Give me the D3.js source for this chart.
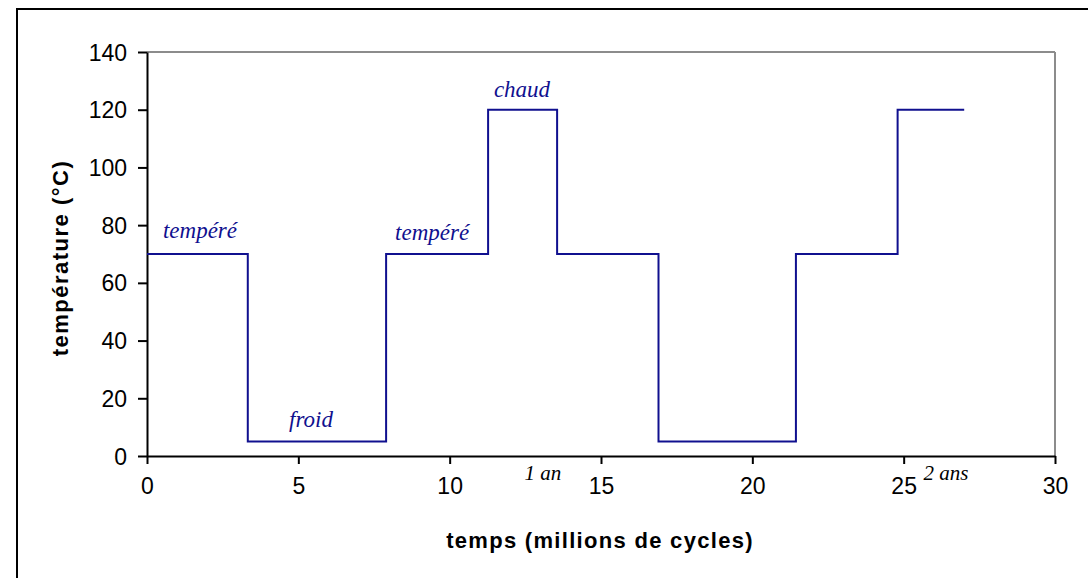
<!DOCTYPE html>
<html>
<head>
<meta charset="utf-8">
<script src="https://cdn.jsdelivr.net/npm/d3@7/dist/d3.min.js"></script>
<style>
  body { margin: 0; background: #fff; }
  svg { display: block; }
</style>
</head>
<body>
<svg width="1088" height="578"></svg>
<script>
// temps (millions de cycles) where each step starts, last one is the end
const times = [0, 3.33, 7.9, 11.27, 13.55, 16.9, 21.44, 24.8, 27];
const temps = [70, 5, 70, 120, 70, 5, 70, 120, 120];

const xTicks = [0, 5, 10, 15, 20, 25, 30];
const yTicks = [0, 20, 40, 60, 80, 100, 120, 140];

// phase labels, placed in data units
const phaseNames = ['tempéré', 'froid', 'tempéré', 'chaud'];
const phaseX = [1.75, 5.42, 9.42, 12.39];
const phaseY = [75.6, 10, 74.9, 124.5];

// year marks under the axis
const yearNames = ['1 an', '2 ans'];
const yearX = [13.08, 26.4];

const svg = d3.select('svg');
const plotLeft = 147, plotRight = 1055, plotTop = 52, plotBottom = 456;
const blue = '#10108f';

// outer frame (only left/top visible in the window)
svg.append('rect')
    .attr('x', 17).attr('y', 9)
    .attr('width', 1200).attr('height', 700)
    .attr('fill', 'none')
    .attr('stroke', '#000')
    .attr('stroke-width', 2);

const x = d3.scaleLinear().domain([0, 30]).range([plotLeft, plotRight]);
const y = d3.scaleLinear().domain([0, 140]).range([plotBottom, plotTop]);

// gray top & right borders of plot area
svg.append('line')
    .attr('x1', plotLeft).attr('x2', plotRight).attr('y1', plotTop).attr('y2', plotTop)
    .attr('stroke', '#8c8c8c').attr('stroke-width', 2);
svg.append('line')
    .attr('x1', plotRight).attr('x2', plotRight).attr('y1', plotTop).attr('y2', plotBottom)
    .attr('stroke', '#8c8c8c').attr('stroke-width', 2);

const yAxis = svg.append('g')
    .attr('transform', `translate(${plotLeft},0)`)
    .call(d3.axisLeft(y).tickValues(yTicks).tickSize(9).tickSizeOuter(0).tickPadding(11));

const xAxis = svg.append('g')
    .attr('transform', `translate(0,${plotBottom})`)
    .call(d3.axisBottom(x).tickValues(xTicks).tickSize(8).tickSizeOuter(0).tickPadding(14));

[xAxis, yAxis].forEach(ax => {
    ax.select('.domain').attr('stroke', '#000').attr('stroke-width', 2);
    ax.selectAll('.tick line').attr('stroke', '#000').attr('stroke-width', 2);
    ax.selectAll('.tick text')
        .attr('fill', '#000')
        .style('font-family', 'Arial, "Liberation Sans", sans-serif')
        .style('font-size', '23px');
});
yAxis.selectAll('.tick text').attr('dy', '0.35em');

// step line
const line = d3.line()
    .x((d, i) => x(times[i]))
    .y(d => y(d))
    .curve(d3.curveStepAfter);

svg.append('path')
    .datum(temps)
    .attr('d', line)
    .attr('fill', 'none')
    .attr('stroke', blue)
    .attr('stroke-width', 2);

// phase labels
svg.append('g').selectAll('text')
    .data(phaseNames)
    .enter().append('text')
    .attr('x', (d, i) => x(phaseX[i]))
    .attr('y', (d, i) => y(phaseY[i]))
    .attr('text-anchor', 'middle')
    .attr('fill', blue)
    .style('font-family', '"Liberation Serif", "Times New Roman", serif')
    .style('font-style', 'italic')
    .style('font-size', '23px')
    .text(d => d);

svg.append('g').selectAll('text')
    .data(yearNames)
    .enter().append('text')
    .attr('x', (d, i) => x(yearX[i]))
    .attr('y', plotBottom + 24)
    .attr('text-anchor', 'middle')
    .attr('fill', '#000')
    .style('font-family', '"Liberation Serif", "Times New Roman", serif')
    .style('font-style', 'italic')
    .style('font-size', '21px')
    .text(d => d);

// axis titles
svg.append('text')
    .attr('x', 600).attr('y', 548)
    .attr('text-anchor', 'middle')
    .style('font-family', 'Arial, "Liberation Sans", sans-serif')
    .style('font-weight', 'bold')
    .style('font-size', '22px')
    .style('letter-spacing', '1.3px')
    .text('temps (millions de cycles)');

svg.append('text')
    .attr('transform', 'translate(68,258) rotate(-90)')
    .attr('text-anchor', 'middle')
    .style('font-family', 'Arial, "Liberation Sans", sans-serif')
    .style('font-weight', 'bold')
    .style('font-size', '22px')
    .style('letter-spacing', '1.5px')
    .text('température (°C)');
</script>
</body>
</html>
